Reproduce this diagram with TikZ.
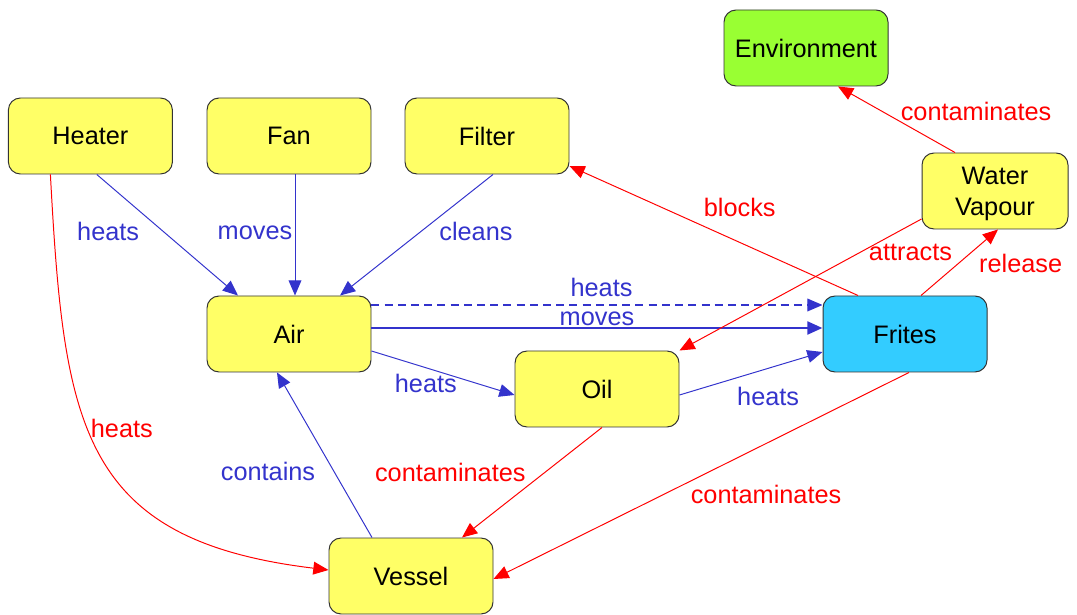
\documentclass[tikz,border=0pt]{standalone}
\usepackage{fontspec}
\setmainfont{Liberation Sans}
\usetikzlibrary{arrows.meta}

\definecolor{edgeblue}{RGB}{51,51,204}
\definecolor{boxyellow}{RGB}{255,255,102}
\definecolor{boxgreen}{RGB}{153,255,51}
\definecolor{boxcyan}{RGB}{51,204,255}

\begin{document}
\begin{tikzpicture}[
    >={Triangle[length=0.38cm,width=0.32cm]},
    thing/.style={draw=black!80, line width=0.7pt, rounded corners=0.3cm, fill=boxyellow,
        minimum width=4.1cm, minimum height=1.9cm, font=\fontsize{18}{22}\selectfont, align=center},
    blueline/.style={->, edgeblue, line width=0.7pt},
    redline/.style={->, red, line width=0.7pt},
    lbl/.style={font=\fontsize{18}{22}\selectfont, inner sep=0pt}
]
    \useasboundingbox (0,0) rectangle (26.925,15.35);

    % the parts
    \node[thing, fill=boxgreen] (env) at (20.15, 14.15) {Environment};
    \node[thing] (heater) at (2.26, 11.95) {Heater};
    \node[thing] (fan) at (7.225, 11.95) {Fan};
    \node[thing] (filter) at (12.175, 11.95) {Filter};
    \node[thing, minimum width=3.65cm, text depth=0pt] (vapour) at (24.875, 10.575) {Water\\Vapour};
    \node[thing] (air) at (7.225, 7.0) {Air};
    \node[thing, fill=boxcyan] (frites) at (22.625, 7.0) {Frites};
    \node[thing] (oil) at (14.925, 5.625) {Oil};
    \node[thing] (vessel) at (10.275, 0.95) {Vessel};

    % blue relations
    \draw[blueline] ([xshift=0.16cm]heater.south) -- ([xshift=-1.275cm]air.north)
        node[lbl, pos=0.47, xshift=-1.375cm] {heats};
    \draw[blueline] ([xshift=0.15cm]fan.south) -- ([xshift=0.15cm]air.north)
        node[lbl, pos=0.48, xshift=-1.0cm] {moves};
    \draw[blueline] ([xshift=0.15cm]filter.south) -- ([xshift=1.275cm]air.north)
        node[lbl, pos=0.467, xshift=1.36cm] {cleans};
    \draw[blueline, line width=0.8pt, dash pattern=on 0.2cm off 0.13cm] ([yshift=0.725cm]air.east) -- ([yshift=0.725cm]frites.west)
        node[lbl, pos=0.51, yshift=0.45cm] {heats};
    \draw[blueline, line width=2pt] ([yshift=0.15cm]air.east) -- ([yshift=0.15cm]frites.west)
        node[lbl, pos=0.5, yshift=0.225cm] {moves};
    \draw[blueline] ([yshift=-0.425cm]air.east) -- ([yshift=-0.15cm]oil.west)
        node[lbl, pos=0.38, yshift=-0.4cm] {heats};
    \draw[blueline] ([yshift=-0.15cm]oil.east) -- ([yshift=-0.45cm]frites.west)
        node[lbl, pos=0.62, yshift=-0.715cm] {heats};
    \draw[blueline] ([xshift=-0.975cm]vessel.north) -- ([xshift=-0.3cm]air.south)
        node[lbl, pos=0.4, xshift=-1.65cm] {contains};

    % red relations
    \draw[redline] ([xshift=-1.0cm]heater.south) .. controls (1.6, 4.7) and (2.0, 1.85) .. ([yshift=0.15cm]vessel.west)
        node[lbl, pos=0.42, xshift=0.9cm, yshift=-0.15cm] {heats};
    \draw[redline] ([xshift=0.125cm]oil.south) -- ([xshift=1.275cm]vessel.north)
        node[lbl, pos=0.405, xshift=-2.375cm] {contaminates};
    \draw[redline] ([xshift=0.1cm]frites.south) -- ([yshift=-0.075cm]vessel.east)
        node[lbl, pos=0.344, yshift=-1.275cm] {contaminates};
    \draw[redline] ([xshift=-1.175cm]frites.north) -- ([yshift=-0.75cm]filter.east)
        node[lbl, pos=0.41, yshift=0.87cm] {blocks};
    \draw[redline] ([yshift=-0.7cm]vapour.west) -- (oil.north east)
        node[lbl, pos=0.258, xshift=1.285cm] {attracts};
    \draw[redline] ([xshift=0.4cm]frites.north) -- ([xshift=0.075cm]vapour.south)
        node[lbl, pos=0.49, xshift=1.55cm] {release};
    \draw[redline] ([xshift=-1.0cm]vapour.north) -- ([xshift=0.8cm]env.south)
        node[lbl, pos=0.627, xshift=2.36cm] {contaminates};

\end{tikzpicture}
\end{document}
